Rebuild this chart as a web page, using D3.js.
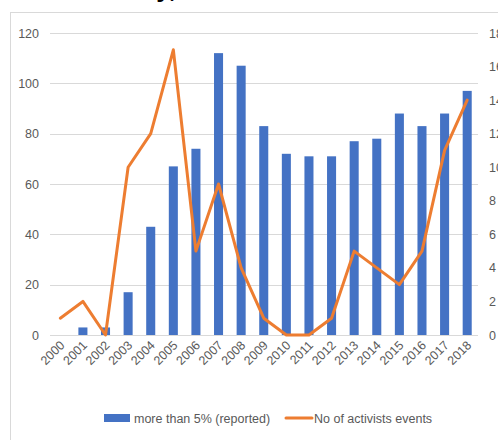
<!DOCTYPE html>
<html>
<head>
<meta charset="utf-8">
<script src="https://cdn.jsdelivr.net/npm/d3@7"></script>
<style>
  body { margin: 0; background: #fff; }
  svg { display: block; }
  text { font-family: "Liberation Sans Narrow", "Liberation Sans", Arial, sans-serif; }
</style>
</head>
<body>
<svg width="498" height="440"></svg>
<script>
var width = 498;
var height = 440;

var years = ['2000', '2001', '2002', '2003', '2004', '2005', '2006', '2007', '2008', '2009',
             '2010', '2011', '2012', '2013', '2014', '2015', '2016', '2017', '2018'];
var reported = [0, 3, 3, 17, 43, 67, 74, 112, 107, 83, 72, 71, 71, 77, 78, 88, 83, 88, 97];
var events = [1, 2, 0, 10, 12, 17, 5, 9, 4, 1, 0, 0, 1, 5, 4, 3, 5, 11, 14];
var leftTicks = [0, 20, 40, 60, 80, 100, 120];
var rightTicks = [0, 2, 4, 6, 8, 10, 12, 14, 16, 18];

var margin = {top: 33, right: 20, bottom: 105, left: 49};

var svg = d3.select('svg');

// chart frame, cropped at right and bottom
svg.append('rect')
    .attr('x', 10.5)
    .attr('y', 12.5)
    .attr('width', 520)
    .attr('height', 460)
    .attr('fill', 'none')
    .attr('stroke', '#d9d9d9');

// title, cut off above the picture: only descenders show
svg.append('text')
    .attr('x', 176)
    .attr('y', -3)
    .attr('text-anchor', 'end')
    .attr('font-size', 26)
    .attr('font-weight', 'bold')
    .attr('fill', '#000')
    .text('Activity,');

var x = d3.scaleBand()
    .domain(years)
    .range([margin.left, 478.5])
    .paddingInner(0.6)
    .paddingOuter(0.3);

var yLeft = d3.scaleLinear().domain([0, 120]).range([335, margin.top]);
var yRight = d3.scaleLinear().domain([0, 18]).range([335, margin.top]);

// gridlines
svg.append('g')
    .selectAll('line')
    .data(leftTicks)
    .join('line')
        .attr('x1', 50)
        .attr('x2', 478)
        .attr('y1', d => Math.round(yLeft(d)) + 0.5)
        .attr('y2', d => Math.round(yLeft(d)) + 0.5)
        .attr('stroke', '#d9d9d9')
        .attr('stroke-width', 1);

// left axis labels
svg.append('g')
    .selectAll('text')
    .data(leftTicks)
    .join('text')
        .attr('x', 39)
        .attr('y', d => yLeft(d) + 4.5)
        .attr('text-anchor', 'end')
        .attr('font-size', 12.5)
        .attr('fill', '#595959')
        .text(d => d);

// right axis labels
svg.append('g')
    .selectAll('text')
    .data(rightTicks)
    .join('text')
        .attr('x', 489)
        .attr('y', d => yRight(d) + 4.5)
        .attr('font-size', 12.5)
        .attr('fill', '#595959')
        .text(d => d);

// bars
svg.append('g')
    .selectAll('rect')
    .data(reported)
    .join('rect')
        .attr('x', (d, i) => x(years[i]))
        .attr('y', d => yLeft(d))
        .attr('width', x.bandwidth())
        .attr('height', d => 335 - yLeft(d))
        .attr('fill', '#4472c4');

// line
var line = d3.line()
    .x((d, i) => x(years[i]) + x.bandwidth() / 2)
    .y(d => yRight(d));

svg.append('path')
    .datum(events)
    .attr('d', line)
    .attr('fill', 'none')
    .attr('stroke', '#ed7d31')
    .attr('stroke-width', 3)
    .attr('stroke-linejoin', 'round')
    .attr('stroke-linecap', 'round');

// x labels, rotated
svg.append('g')
    .selectAll('text')
    .data(years)
    .join('text')
        .attr('transform', d => `translate(${x(d) + x.bandwidth() / 2 + 5}, 346) rotate(-45)`)
        .attr('text-anchor', 'end')
        .attr('font-size', 12.5)
        .attr('fill', '#595959')
        .text(d => d);

// legend
var legend = svg.append('g');
legend.append('rect')
    .attr('x', 104)
    .attr('y', 414)
    .attr('width', 26)
    .attr('height', 8)
    .attr('fill', '#4472c4');
legend.append('text')
    .attr('x', 134)
    .attr('y', 423)
    .attr('font-size', 12.5)
    .attr('fill', '#595959')
    .text('more than 5% (reported)');
legend.append('line')
    .attr('x1', 286)
    .attr('x2', 312)
    .attr('y1', 418)
    .attr('y2', 418)
    .attr('stroke', '#ed7d31')
    .attr('stroke-width', 3)
    .attr('stroke-linecap', 'round');
legend.append('text')
    .attr('x', 314)
    .attr('y', 423)
    .attr('font-size', 12.5)
    .attr('fill', '#595959')
    .text('No of activists events');
</script>
</body>
</html>
